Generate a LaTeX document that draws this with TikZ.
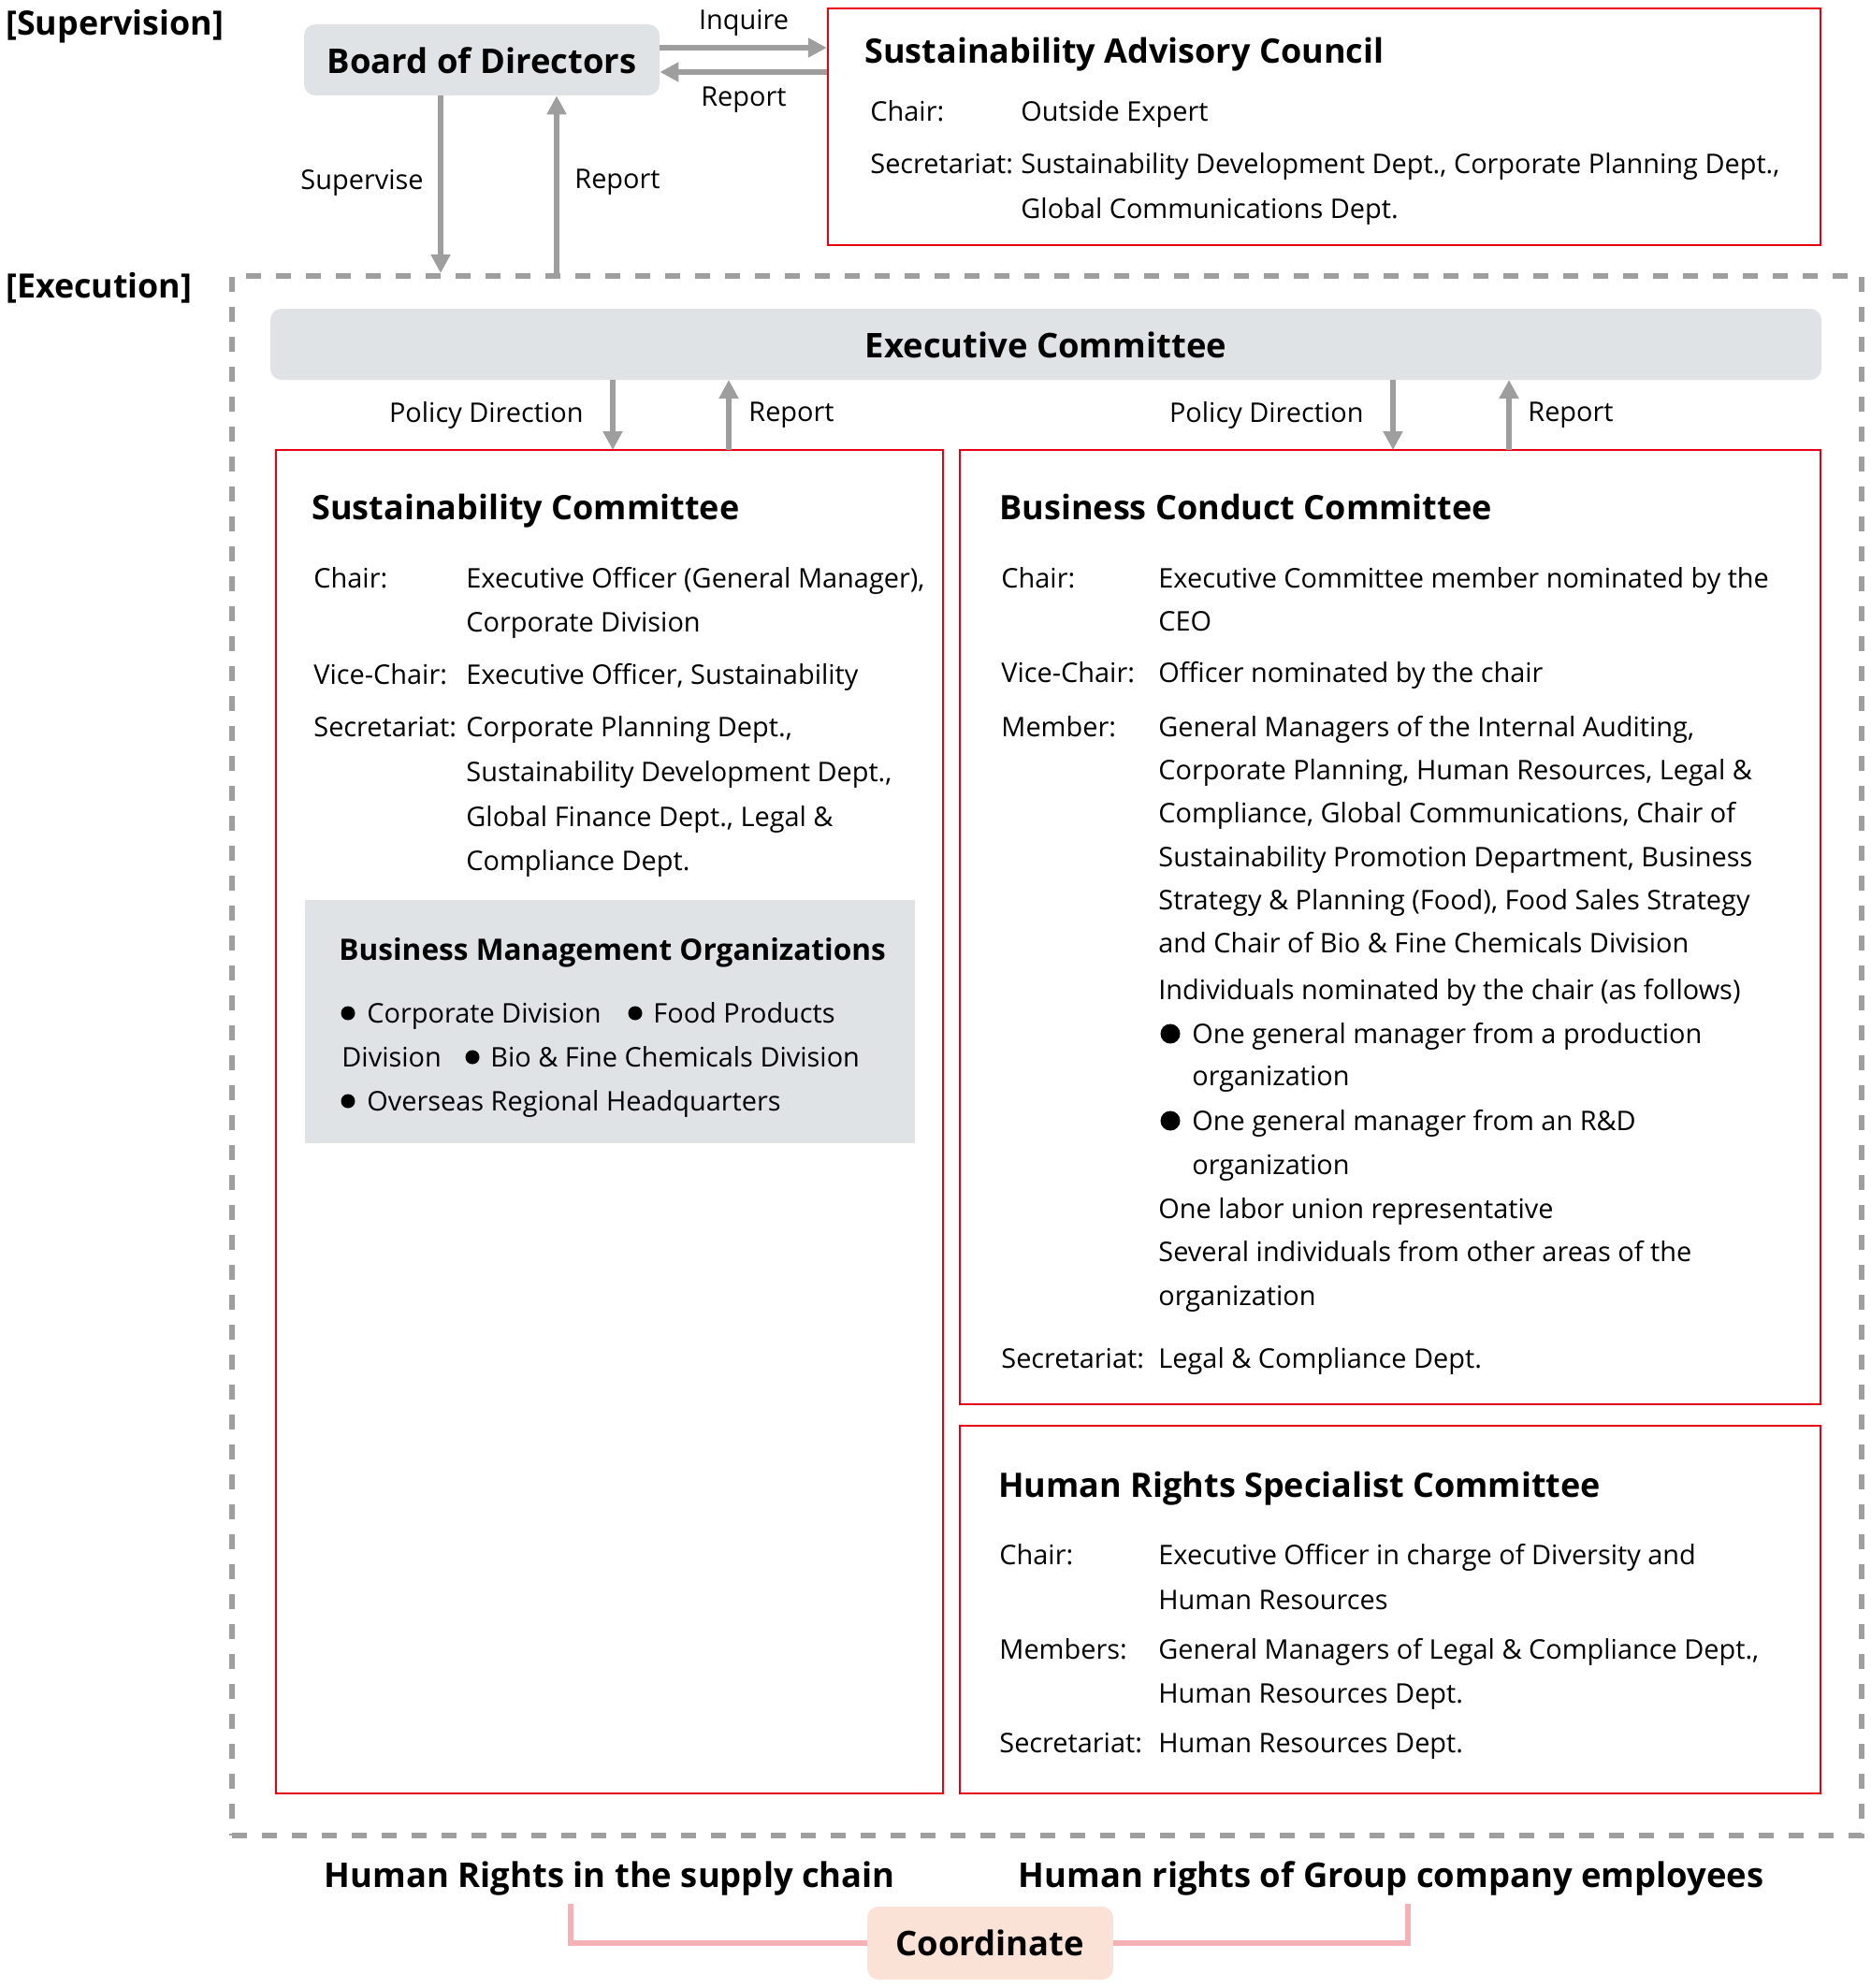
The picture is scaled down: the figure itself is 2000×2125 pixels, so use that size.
\documentclass[tikz,border=0pt]{standalone}
\usepackage{fontspec}
\setmainfont{Open Sans}
\usetikzlibrary{arrows.meta,fit,calc}
\definecolor{gr}{HTML}{9E9E9E}
\definecolor{boxfill}{HTML}{DFE3E6}
\definecolor{redline}{HTML}{E60012}
\definecolor{pinkline}{HTML}{F5B1B5}
\definecolor{peach}{HTML}{FBE2D6}
\newcounter{tlc}
\newcommand\tl[3]{\stepcounter{tlc}\node[tx] (tl\arabic{tlc}) at (#1,#2) {#3};}
\begin{document}
\begin{tikzpicture}[x=0.5pt,y=-0.5pt,
  graybox/.style={fill=boxfill, rounded corners=6pt, inner sep=0pt},
  flatbox/.style={fill=boxfill, inner sep=0pt},
  redbox/.style={draw=redline, line width=1.2pt, inner sep=0pt},
  arr/.style={draw=gr, line width=3pt, -{Triangle[length=10pt,width=10pt]}},
  tx/.style={anchor=base west, inner sep=0pt, font=\fontsize{14.45}{17}\selectfont},
  lab/.style={inner sep=0pt, font=\fontsize{14.45}{17}\selectfont},
  ttl/.style={anchor=base west, inner sep=0pt, font=\fontsize{18}{22}\selectfont\bfseries},
  big/.style={anchor=base, inner sep=0pt, font=\fontsize{18.2}{22}\selectfont\bfseries},
  hd/.style={anchor=base west, inner sep=0pt, font=\fontsize{17.9}{22}\selectfont\bfseries},
  dotmark/.style={circle, fill=black, inner sep=0pt, minimum size=#1},
]
\useasboundingbox (0,0) rectangle (2000,2125);

% headings
\node[hd] (sup) at (6,38) {[Supervision]};
\node[hd] (exe) at (6,318) {[Execution]};

% board
\node[graybox, fit={(325,26) (705,102)}] (bod) {};
\node[big] (bodt) at (515,79) {Board of Directors};

% advisory council
\node[redbox, fit={(885,9) (1946,262)}] (sac) {};
\node[ttl] (sact) at (924,68) {Sustainability Advisory Council};
\tl{930}{130}{Chair:}
\tl{1091}{130}{Outside Expert}
\tl{930}{185}{Secretariat:}
\tl{1091}{185}{Sustainability Development Dept., Corporate Planning Dept.,}
\tl{1091}{233}{Global Communications Dept.}

\draw[arr] ([yshift=6.5pt]bod.east) -- ([yshift=6.5pt]bod.east -| sac.west);
\draw[arr] ([yshift=-6.5pt]bod.east -| sac.west) -- ([yshift=-6.5pt]bod.east);
\node[lab] (inq) at (795,24) {Inquire};
\node[lab] (rep1) at (795,107) {Report};

% execution zone
\node[fit={(248,295) (1990,1962)}, draw=gr, line width=3pt, dash pattern=on 8pt off 8pt, inner sep=0pt] (exz) {};
\draw[arr] ([xshift=-22pt]bod.south) -- ([xshift=-22pt]bod.south |- exz.north);
\draw[arr] ([xshift=40pt]bod.south |- exz.north) -- ([xshift=40pt]bod.south);
\node[lab, anchor=east] (supv) at (453,195) {Supervise};
\node[lab, anchor=west] (rep2) at (614,195) {Report};

% executive committee
\node[graybox, fit={(289,330) (1947,406)}] (ec) {};
\node[big] (ect) at (1118,382) {Executive Committee};

% sustainability committee
\node[redbox, fit={(295,481) (1008,1917)}] (sc) {};
\draw[arr] (655,406) coordinate (a1s) -- (655,481) coordinate (a1e);
\draw[arr] (779,481) -- (779,406);
\node[lab, anchor=east] (pd1) at (624,444) {Policy Direction};
\node[lab, anchor=west] (rep3) at (800,444) {Report};
\node[ttl] (sct) at (333,555) {Sustainability Committee};
\tl{335}{628}{Chair:}
\tl{498}{628}{Executive Officer (General Manager),}
\tl{498}{675}{Corporate Division}
\tl{335}{731}{Vice-Chair:}
\tl{498}{731}{Executive Officer, Sustainability}
\tl{335}{787}{Secretariat:}
\tl{498}{787}{Corporate Planning Dept.,}
\tl{498}{835}{Sustainability Development Dept.,}
\tl{498}{883}{Global Finance Dept., Legal \&}
\tl{498}{930}{Compliance Dept.}

% business management organizations
\node[flatbox, fit={(326,962) (978,1222)}] (bmo) {};
\node[ttl, font=\fontsize{15.8}{19}\selectfont\bfseries] (bmot) at (362,1026) {Business Management Organizations};
\node[dotmark=7.5pt] (d1) at (372,1083) {};
\tl{392}{1093}{Corporate Division}
\node[dotmark=7.5pt] (d2) at (679,1083) {};
\tl{698}{1093}{Food Products}
\tl{365}{1140}{Division}
\node[dotmark=7.5pt] (d3) at (505,1130) {};
\tl{524}{1140}{Bio \& Fine Chemicals Division}
\node[dotmark=7.5pt] (d4) at (372,1177) {};
\tl{392}{1187}{Overseas Regional Headquarters}

% business conduct committee
\node[redbox, fit={(1026,481) (1946,1501)}] (bcc) {};
\draw[arr] (1489,406) -- (1489,481);
\draw[arr] (1613,481) -- (1613,406);
\node[lab, anchor=east] (pd2) at (1458,444) {Policy Direction};
\node[lab, anchor=west] (rep4) at (1633,444) {Report};
\node[ttl] (bcct) at (1068,555) {Business Conduct Committee};
\tl{1070}{628}{Chair:}
\tl{1238}{628}{Executive Committee member nominated by the}
\tl{1238}{674}{CEO}
\tl{1070}{729}{Vice-Chair:}
\tl{1238}{729}{Officer nominated by the chair}
\tl{1070}{787}{Member:}
\tl{1238}{787}{General Managers of the Internal Auditing,}
\tl{1238}{833}{Corporate Planning, Human Resources, Legal \&}
\tl{1238}{879}{Compliance, Global Communications, Chair of}
\tl{1238}{926}{Sustainability Promotion Department, Business}
\tl{1238}{972}{Strategy \& Planning (Food), Food Sales Strategy}
\tl{1238}{1018}{and Chair of Bio \& Fine Chemicals Division}
\tl{1238}{1068}{Individuals nominated by the chair (as follows)}
\node[dotmark=10.5pt] (d5) at (1251,1105) {};
\tl{1274}{1115}{One general manager from a production}
\tl{1274}{1160}{organization}
\node[dotmark=10.5pt] (d6) at (1251,1198) {};
\tl{1274}{1208}{One general manager from an R\&D}
\tl{1274}{1255}{organization}
\tl{1238}{1302}{One labor union representative}
\tl{1238}{1348}{Several individuals from other areas of the}
\tl{1238}{1395}{organization}
\tl{1070}{1462}{Secretariat:}
\tl{1238}{1462}{Legal \& Compliance Dept.}

% human rights specialist committee
\node[redbox, fit={(1026,1524) (1946,1917)}] (hrs) {};
\node[ttl] (hrst) at (1067,1600) {Human Rights Specialist Committee};
\tl{1068}{1672}{Chair:}
\tl{1238}{1672}{Executive Officer in charge of Diversity and}
\tl{1238}{1720}{Human Resources}
\tl{1068}{1773}{Members:}
\tl{1238}{1773}{General Managers of Legal \& Compliance Dept.,}
\tl{1238}{1820}{Human Resources Dept.}
\tl{1068}{1873}{Secretariat:}
\tl{1238}{1873}{Human Resources Dept.}

% bottom
\node[big] (hr1) at (652,2017) {Human Rights in the supply chain};
\node[big] (hr2) at (1487,2017) {Human rights of Group company employees};
\node[fill=peach, rounded corners=6pt, inner sep=0pt, fit={(927,2038) (1190,2116)}] (coord) {};
\node[big] (coordt) at (1058,2090) {Coordinate};
\coordinate (bl) at (610,2035);
\coordinate (br) at (1505,2035);
\draw[pinkline, line width=3pt] (bl) |- (coord.west);
\draw[pinkline, line width=3pt] (br) |- (coord.east);
\end{tikzpicture}
\end{document}
